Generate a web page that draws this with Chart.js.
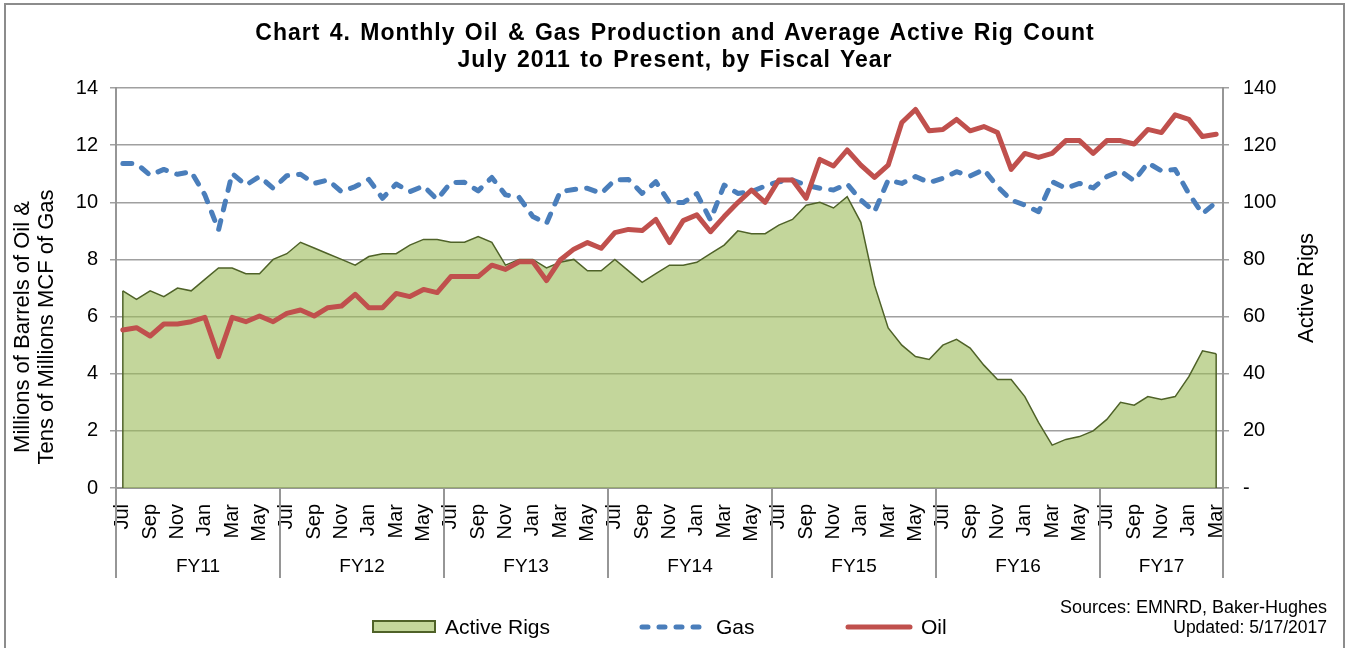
<!DOCTYPE html>
<html>
<head>
<meta charset="utf-8">
<title>Chart 4</title>
<script src="https://cdn.jsdelivr.net/npm/chart.js@4/dist/chart.umd.min.js"></script>
<style>
  body { margin: 0; background: #fff; }
  #wrap { position: relative; width: 1346px; height: 648px; overflow: hidden;
          font-family: "Liberation Sans", Arial, sans-serif; color: #000; }
  #frame { position: absolute; left: 4px; top: 3px; width: 1341px; height: 700px;
           border: 2px solid #8c8c8c; box-sizing: border-box; }
  canvas { position: absolute; left: 0; top: 0; }
  #title { position: absolute; left: 0; top: 19px; width: 1350px; text-align: center;
           font-weight: bold; font-size: 23px; line-height: 27px; letter-spacing: 1px; word-spacing: 2px; }
  .rot { position: absolute; text-align: center; transform: rotate(-90deg); white-space: nowrap; }
  .leg { position: absolute; font-size: 21px; line-height: 22px; white-space: nowrap; }
</style>
</head>
<body>
<div id="wrap">
  <div id="frame"></div>
  <canvas id="myChart" width="1346" height="648"></canvas>

  <div id="title">Chart 4. Monthly Oil &amp; Gas Production and Average Active Rig Count<br>July 2011 to Present, by Fiscal Year</div>

  <div class="rot" style="left:-116px; top:303px; width:300px; height:48px; font-size:22px; line-height:24px;">
    Millions of Barrels of Oil &amp;<br>Tens of Millions MCF of Gas
  </div>
  <div class="rot" style="left:1206px; top:276px; width:200px; height:24px; font-size:22px; line-height:24px;">Active Rigs</div>

  <!-- legend -->
  <div style="position:absolute; left:372px; top:620px; width:64px; height:13px; background:#c4d79b; border:2px solid #4f6228; box-sizing:border-box;"></div>
  <div class="leg" style="left:445px; top:616px;">Active Rigs</div>
  <svg style="position:absolute; left:630px; top:617px;" width="90" height="20">
    <line x1="12" y1="10" x2="72" y2="10" stroke="#4a7ebb" stroke-width="5" stroke-linecap="round" stroke-dasharray="6 11"/>
  </svg>
  <div class="leg" style="left:716px; top:616px;">Gas</div>
  <svg style="position:absolute; left:836px; top:617px;" width="90" height="20">
    <line x1="12" y1="10" x2="74" y2="10" stroke="#c0504d" stroke-width="5" stroke-linecap="round"/>
  </svg>
  <div class="leg" style="left:921px; top:616px;">Oil</div>

  <div style="position:absolute; right:19px; top:597px; text-align:right; font-size:17.5px; line-height:20px;">
    <span style="font-size:18px">Sources: EMNRD, Baker-Hughes</span><br>Updated: 5/17/2017
  </div>
</div>

<script>
const fiscalYears = ["FY11", "FY12", "FY13", "FY14", "FY15", "FY16", "FY17"];
const monthsInYear = [12, 12, 12, 12, 12, 12, 9];
const monthNames = ["Jul", "Aug", "Sep", "Oct", "Nov", "Dec", "Jan", "Feb", "Mar", "Apr", "May", "Jun"];

// category labels, Jul FY11 .. Mar FY17
const months = [];
fiscalYears.forEach((fy, k) => {
  for (let m = 0; m < monthsInYear[k]; m++) months.push(monthNames[m]);
});

// average active rig count (right axis)
const rigs = [
  69, 66, 69, 67, 70, 69, 73, 77, 77, 75, 75, 80,
  82, 86, 84, 82, 80, 78, 81, 82, 82, 85, 87, 87,
  86, 86, 88, 86, 78, 80, 80, 77, 79, 80, 76, 76,
  80, 76, 72, 75, 78, 78, 79, 82, 85, 90, 89, 89,
  92, 94, 99, 100, 98, 102, 93, 71, 56, 50, 46, 45,
  50, 52, 49, 43, 38, 38, 32, 23, 15, 17, 18, 20,
  24, 30, 29, 32, 31, 32, 39, 48, 47
];

// gas, tens of millions MCF
const gas = [
  11.36, 11.35, 10.95, 11.15, 10.98, 11.07, 10.26, 9.03, 11.01, 10.6, 10.9, 10.49,
  10.93, 10.98, 10.66, 10.78, 10.37, 10.55, 10.8, 10.14, 10.64, 10.37, 10.57, 10.1,
  10.69, 10.7, 10.4, 10.87, 10.26, 10.17, 9.5, 9.26, 10.37, 10.45, 10.49, 10.31,
  10.78, 10.8, 10.31, 10.72, 9.99, 9.99, 10.3, 9.38, 10.6, 10.31, 10.37, 10.57,
  10.72, 10.78, 10.6, 10.49, 10.43, 10.64, 10.08, 9.67, 10.78, 10.66, 10.9, 10.69,
  10.84, 11.07, 10.92, 11.15, 10.55, 10.08, 9.9, 9.67, 10.72, 10.49, 10.66, 10.5,
  10.9, 11.1, 10.75, 11.38, 11.1, 11.15, 10.3, 9.6, 10.0
];

// oil, millions of barrels
const oil = [
  5.53, 5.61, 5.32, 5.74, 5.74, 5.82, 5.97, 4.6, 5.97, 5.82, 6.02, 5.82,
  6.11, 6.23, 6.02, 6.31, 6.37, 6.78, 6.31, 6.31, 6.81, 6.7, 6.95, 6.84,
  7.4, 7.4, 7.4, 7.8, 7.65, 7.92, 7.92, 7.26, 7.98, 8.36, 8.59, 8.39,
  8.94, 9.05, 9.01, 9.4, 8.59, 9.36, 9.56, 8.97, 9.5, 9.99, 10.43, 10.0,
  10.78, 10.78, 10.14, 11.5, 11.27, 11.83, 11.3, 10.87, 11.3, 12.79, 13.25, 12.5,
  12.55, 12.9, 12.5, 12.65, 12.44, 11.15, 11.71, 11.57, 11.71, 12.16, 12.16, 11.71,
  12.16, 12.16, 12.04, 12.55, 12.44, 13.06, 12.9, 12.3, 12.38
];

const gridGray = "#a0a0a0";
const axisGray = "#969696";

// closes the rig area with vertical edges like the original
const areaEdges = {
  id: "areaEdges",
  afterDatasetDraw(chart, args) {
    if (args.index !== 0) return;
    const pts = args.meta.data;
    const base = chart.scales.y1.getPixelForValue(0);
    const ctx = chart.ctx;
    ctx.save();
    ctx.strokeStyle = "#4f6228";
    ctx.lineWidth = 1.5;
    [pts[0], pts[pts.length - 1]].forEach(p => {
      ctx.beginPath();
      ctx.moveTo(p.x, p.y);
      ctx.lineTo(p.x, base);
      ctx.stroke();
    });
    ctx.restore();
  }
};

// fiscal year group labels and separators under the month ticks
const fyGroups = {
  id: "fyGroups",
  afterDraw(chart) {
    const xs = chart.scales.x;
    const ctx = chart.ctx;
    const bottom = chart.chartArea.bottom;
    const step = xs.getPixelForValue(1) - xs.getPixelForValue(0);
    ctx.save();
    ctx.strokeStyle = axisGray;
    ctx.lineWidth = 2;
    ctx.fillStyle = "#000";
    ctx.font = '19px "Liberation Sans", Arial, sans-serif';
    ctx.textAlign = "center";
    ctx.textBaseline = "middle";
    let start = 0;
    let x1 = 0;
    fiscalYears.forEach((fy, k) => {
      const x0 = xs.getPixelForValue(start) - step / 2;
      x1 = xs.getPixelForValue(start + monthsInYear[k] - 1) + step / 2;
      ctx.beginPath();
      ctx.moveTo(x0, bottom);
      ctx.lineTo(x0, bottom + 90);
      ctx.stroke();
      ctx.fillText(fy, (x0 + x1) / 2, bottom + 79);
      start += monthsInYear[k];
    });
    ctx.beginPath();
    ctx.moveTo(x1, bottom);
    ctx.lineTo(x1, bottom + 90);
    ctx.stroke();
    ctx.restore();
  }
};

Chart.defaults.font.family = '"Liberation Sans", Arial, sans-serif';
Chart.defaults.color = "#000";

const ctx = document.getElementById("myChart");
new Chart(ctx, {
  type: "line",
  data: {
    labels: months,
    datasets: [
      {
        label: "Active Rigs",
        data: rigs,
        yAxisID: "y1",
        fill: "origin",
        backgroundColor: "rgba(155,187,89,0.6)",
        borderColor: "#4f6228",
        borderWidth: 1.5,
        pointRadius: 0,
        order: 3,
      },
      {
        label: "Gas",
        data: gas,
        yAxisID: "y",
        fill: false,
        borderColor: "#4a7ebb",
        borderWidth: 5,
        borderDash: [9, 11],
        borderCapStyle: "round",
        borderJoinStyle: "round",
        pointRadius: 0,
        order: 2,
      },
      {
        label: "Oil",
        data: oil,
        yAxisID: "y",
        fill: false,
        borderColor: "#c0504d",
        borderWidth: 5,
        borderCapStyle: "round",
        borderJoinStyle: "round",
        pointRadius: 0,
        order: 1,
      },
    ],
  },
  options: {
    responsive: false,
    animation: false,
    devicePixelRatio: 1,
    layout: { padding: { top: 88 } },
    plugins: {
      legend: { display: false },
      tooltip: { enabled: false },
      title: { display: false },
    },
    scales: {
      x: {
        offset: true,
        grid: { display: false, drawTicks: false },
        border: { display: true, color: axisGray, width: 2 },
        ticks: {
          autoSkip: false,
          minRotation: 90,
          maxRotation: 90,
          padding: 16,
          font: { size: 20 },
          callback: (v, i) => (i % 2 === 0 ? months[i] : ""),
        },
        afterFit: (s) => { s.height = 160; },
      },
      y: {
        position: "left",
        min: 0,
        max: 14,
        ticks: { stepSize: 2, padding: 12, font: { size: 20 } },
        grid: { color: gridGray, lineWidth: 1.5, tickLength: 6 },
        border: { color: axisGray, width: 2 },
        afterFit: (s) => { s.width = 116; },
      },
      y1: {
        position: "right",
        min: 0,
        max: 140,
        ticks: {
          stepSize: 20,
          padding: 14,
          font: { size: 20 },
          callback: (v) => (v === 0 ? "-" : v),
        },
        grid: { drawOnChartArea: false, color: gridGray, lineWidth: 1.5, tickLength: 6 },
        border: { color: axisGray, width: 2 },
        afterFit: (s) => { s.width = 123; },
      },
    },
  },
  plugins: [areaEdges, fyGroups],
});
</script>
</body>
</html>
